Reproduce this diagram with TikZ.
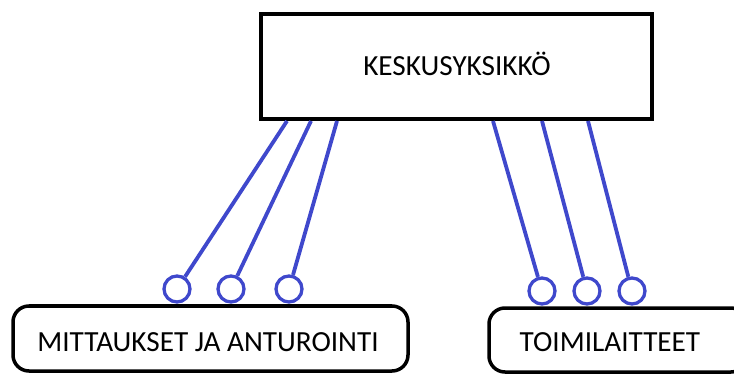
\documentclass[tikz,border=0pt]{standalone}
\usepackage{fontspec}
\setmainfont{Carlito}
\definecolor{wireblue}{HTML}{3F48CC}
\tikzset{
  unitbox/.style={draw=black, line width=4pt, fill=white, inner sep=0pt},
  devicebox/.style={draw=black, line width=3.5pt, rounded corners=16pt, fill=white, inner sep=0pt},
  port/.style={circle, draw=wireblue, line width=3.3pt, fill=white, minimum size=26pt, inner sep=0pt},
  wire/.style={draw=wireblue, line width=3.8pt},
  caption/.style={font=\fontsize{29.2}{31}\selectfont, anchor=base, inner sep=0pt}
}
\begin{document}
\begin{tikzpicture}[x=1pt, y=-1pt]
  \useasboundingbox (0,0) rectangle (734,374);
  \clip (0,0) rectangle (734,374);

  % central unit
  \node[unitbox, minimum width=391pt, minimum height=105pt] (cpu) at (456.5,66.5) {};
  \node[caption] (cpuText) at (457,76) {KESKUSYKSIKKÖ};

  % lower blocks
  \node[devicebox, minimum width=395pt, minimum height=65pt] (sensors) at (210.5,338.5) {};
  \node[caption] (sensorsText) at (208,351.5) {MITTAUKSET JA ANTUROINTI};
  \node[devicebox, minimum width=258pt, minimum height=64pt] (actuators) at (618,340) {};
  \node[caption] (actuatorsText) at (610,351) {TOIMILAITTEET};

  % connection points on the bottom of the central unit
  \coordinate (s1) at (287,121);
  \coordinate (s2) at (311,121);
  \coordinate (s3) at (337,121);
  \coordinate (a1) at (493,121);
  \coordinate (a2) at (542,121);
  \coordinate (a3) at (588,121);

  % input ports
  \node[port] (p1) at (177,289) {};
  \node[port] (p2) at (231,289) {};
  \node[port] (p3) at (289,289) {};
  % output ports
  \node[port] (q1) at (542,291) {};
  \node[port] (q2) at (587,291) {};
  \node[port] (q3) at (632,291) {};

  \draw[wire] (s1) -- (p1);
  \draw[wire] (s2) -- (p2);
  \draw[wire] (s3) -- (p3);
  \draw[wire] (a1) -- (q1);
  \draw[wire] (a2) -- (q2);
  \draw[wire] (a3) -- (q3);
\end{tikzpicture}
\end{document}
